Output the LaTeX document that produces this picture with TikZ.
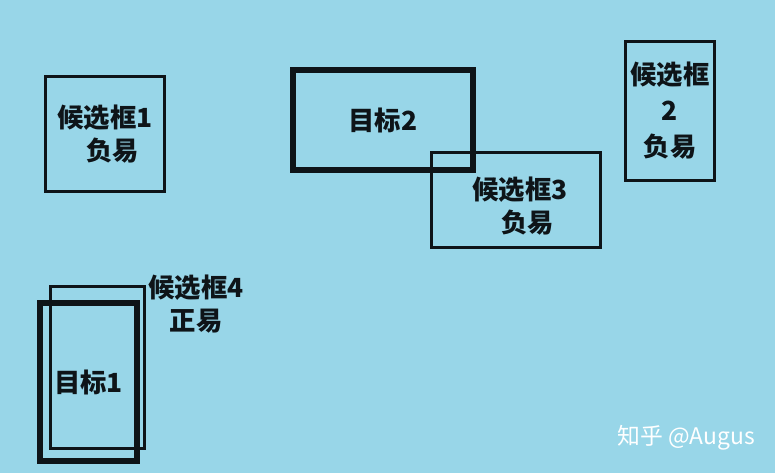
\documentclass[tikz,border=0pt]{standalone}
\usepackage{fontspec}
\setmainfont{Noto Sans CJK SC}
\usetikzlibrary{positioning}
\definecolor{skyback}{RGB}{152,214,232}
\definecolor{inkdark}{RGB}{14,20,24}
\tikzset{
  candbox/.style={draw=inkdark, line width=1.7pt, minimum width=#1, inner sep=0pt, align=center,
    font=\fontsize{15}{18.5}\selectfont\bfseries, text=inkdark},
  goalbox/.style={draw=inkdark, line width=3.4pt, inner sep=0pt, align=center,
    font=\fontsize{15}{18.5}\selectfont\bfseries, text=inkdark},
  tag/.style={align=center, font=\fontsize{15}{19}\selectfont\bfseries, text=inkdark},
}
\begin{document}
\begin{tikzpicture}[x=0.02cm, y=-0.02cm]
  % 背景
  \fill[skyback] (0,0) rectangle (775,473);
  \useasboundingbox (0,0) rectangle (775,473);

  % 候选框
  \node[candbox=2.4cm, minimum height=2.32cm] (cand1) at (105,134) {候选框1\\ \hspace{0.6em}负易};
  \node[candbox=3.38cm, minimum height=1.92cm] (cand3) at (516,200) {};
  \node[tag] (cand3txt) at (520,206) {候选框3\\ \hspace{0.6em}负易};
  \node[candbox=1.78cm, minimum height=2.78cm, font=\fontsize{15}{20.5}\selectfont\bfseries] (cand2) at (670,111) {候选框\\ 2\\ 负易};
  \node[candbox=1.9cm, minimum height=3.26cm] (cand4) at (97.5,367.5) {};
  \node[tag] (cand4txt) at (196,304) {候选框4\\ 正易};

  % 目标
  \node[goalbox, minimum width=3.6cm, minimum height=2cm] (goal2) at (383,120) {目标2};
  \node[goalbox, minimum width=1.94cm, minimum height=3.16cm] (goal1) at (88.5,382) {目标1};

  % 水印
  \node[text=white, font=\fontsize{13}{15}\selectfont] (mark) at (686,438) {知乎 @Augus};
\end{tikzpicture}
\end{document}
